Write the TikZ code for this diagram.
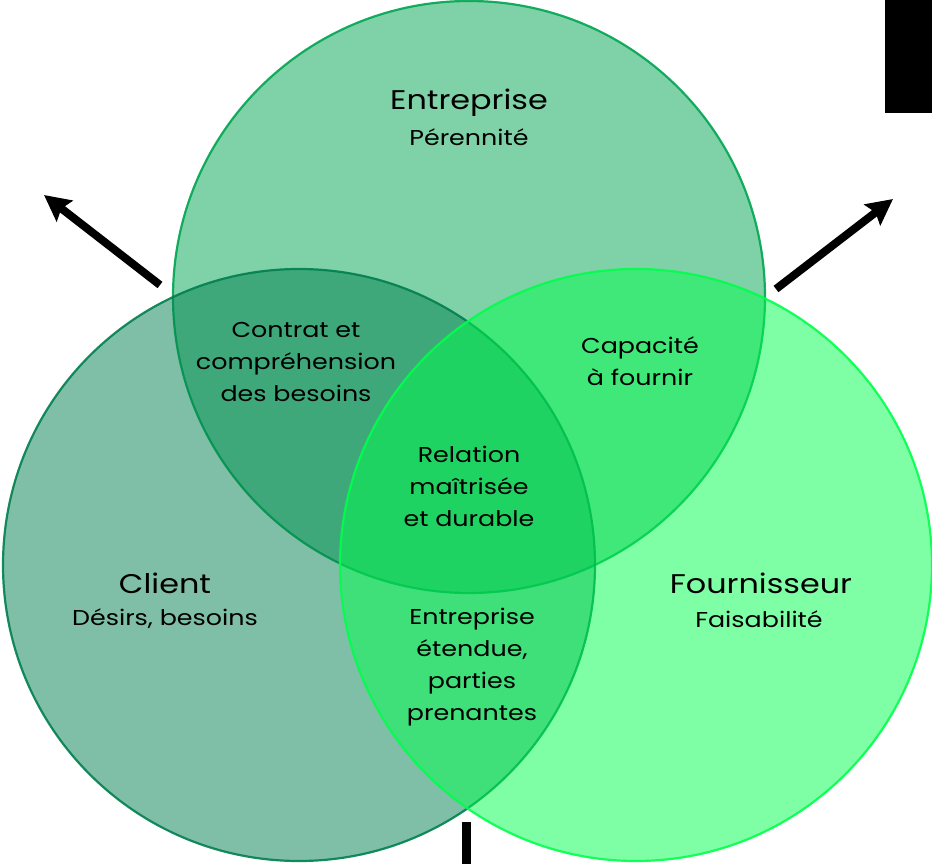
\documentclass[tikz,border=0pt]{standalone}
\usepackage{fontspec}
\setmainfont{Poppins}[FakeStretch=1.18]
\usepackage{xcolor}
\usepackage{tikz}
\usetikzlibrary{arrows.meta}
\definecolor{entreprisecolor}{HTML}{00A550}
\definecolor{clientcolor}{HTML}{007F4F}
\definecolor{fournisseurcolor}{HTML}{00FF4C}
\tikzstyle{node:circle}=[circle,inner sep=0pt,minimum size=592pt,line width=2.2pt,fill opacity=0.5,draw opacity=0.9]
\tikzstyle{node:title}=[align=center,font=\fontsize{27}{32}\selectfont]
\tikzstyle{node:subtitle}=[align=center,font=\fontsize{21.5}{32}\selectfont]
\tikzstyle{node:text}=[align=center,font=\fontsize{21.5}{32}\selectfont]
\tikzstyle{draw:arrow}=[-{Stealth[length=26pt,width=26pt,inset=4pt]}, line width=8pt]

\begin{document}
\begin{tikzpicture}[x=1pt,y=-1pt]
        \useasboundingbox (0,0) rectangle (932,864);

        % Three circles
        \node[node:circle,draw=entreprisecolor,fill=entreprisecolor] (C-E) at (469,297) {};
        \node[node:circle,draw=clientcolor,fill=clientcolor] (C-C) at (299,565) {};
        \node[node:circle,draw=fournisseurcolor,fill=fournisseurcolor] (C-F) at (636,565) {};

        % Titles of the circles
        \node[node:title] (T-E) at (469,103) {Entreprise};
        \node[node:subtitle] (S-E) at (469,137) {Pérennité};
        \node[node:title] (T-C) at (165,583) {Client};
        \node[node:subtitle] (S-C) at (165,619) {Désirs, besoins};
        \node[node:title] (T-F) at (761,583) {Fournisseur};
        \node[node:subtitle] (S-F) at (759,619) {Faisabilité};

        % Intersections
        \node[node:text] (I-EC) at (296,362) {Contrat et\\compréhension\\des besoins};
        \node[node:text] (I-EF) at (640,361) {Capacité\\à fournir};
        \node[node:text] (I-ECF) at (469,486) {Relation\\maîtrisée\\et durable};
        \node[node:text] (I-CF) at (472,667) {Entreprise\\étendue,\\parties\\prenantes};

        % Arrows and marks
        \coordinate (A1-s) at (160,285);
        \coordinate (A1-e) at (44,195);
        \coordinate (A2-s) at (776,289);
        \coordinate (A2-e) at (893,199);
        \coordinate (B-s) at (466.5,822);
        \coordinate (B-e) at (466.5,864);
        \draw[draw:arrow] (A1-s) -- (A1-e);
        \draw[draw:arrow] (A2-s) -- (A2-e);
        \draw[line width=9pt] (B-s) -- (B-e);
        \fill (885,0) rectangle (932,113);
    \end{tikzpicture}
\end{document}
